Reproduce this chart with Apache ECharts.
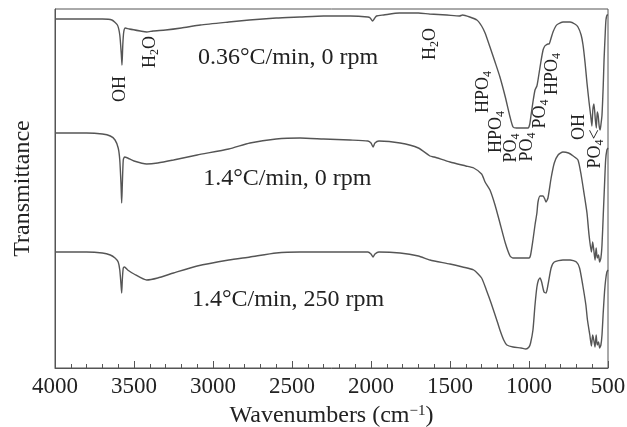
<!DOCTYPE html>
<html>
<head>
<meta charset="utf-8">
<script src="https://cdn.jsdelivr.net/npm/echarts@6/dist/echarts.min.js"></script>
<style>
    html, body { margin: 0; padding: 0; background: #fff; }
    #chart { width: 627px; height: 427px; }
</style>
</head>
<body>
<div id="chart"></div>
<script>
// FTIR spectra, transmittance in arbitrary units (curves offset vertically)
const slowStill = [
    [4000, 353], [3800, 353], [3700, 353], [3640, 352], [3605, 347], [3590, 337], [3580, 317],
    [3576, 307], [3571, 327], [3565, 340], [3555, 344], [3530, 343], [3460, 341], [3420, 340],
    [3380, 341], [3300, 342], [3200, 344], [3080, 347], [2900, 350], [2770, 352], [2600, 354],
    [2450, 355], [2300, 356], [2130, 356], [2020, 355], [2005, 354], [1990, 351], [1980, 353],
    [1965, 356], [1920, 357], [1820, 359], [1700, 359], [1630, 358], [1520, 357], [1440, 356],
    [1420, 357], [1375, 355], [1330, 352], [1300, 346], [1278, 339], [1247, 325], [1215, 310],
    [1184, 295], [1150, 275], [1120, 255], [1101, 245], [1080, 244], [1057, 244], [1030, 244],
    [1006, 244], [995, 248], [987, 257], [975, 270], [962, 282], [950, 286], [943, 292],
    [925, 310], [911, 322], [900, 326], [892, 327], [880, 328], [873, 328], [860, 334],
    [848, 340], [830, 346], [816, 348], [785, 350], [740, 350], [710, 348], [690, 345],
    [670, 337], [658, 327], [645, 309], [633, 289], [620, 270], [610, 257], [602, 246],
    [596, 262], [589, 268], [580, 252], [574, 244], [568, 260], [562, 256], [556, 246],
    [550, 242], [545, 247], [538, 257], [530, 287], [525, 312], [518, 337], [513, 352],
    [505, 357], [500, 357]
];

const fastStill = [
    [4000, 239], [3800, 239], [3700, 238], [3650, 236], [3620, 232], [3600, 224], [3590, 212],
    [3582, 187], [3578, 169], [3574, 187], [3568, 212], [3560, 215], [3540, 214], [3500, 211],
    [3420, 208], [3350, 209], [3250, 212], [3100, 217], [2900, 223], [2766, 229], [2600, 233],
    [2449, 234], [2300, 233], [2133, 232], [2020, 231], [2000, 229], [1987, 225], [1975, 229],
    [1950, 231], [1816, 229], [1700, 224], [1627, 216], [1600, 215], [1500, 210], [1400, 206],
    [1350, 204], [1300, 198], [1278, 190], [1247, 182], [1215, 167], [1184, 149], [1150, 129],
    [1120, 116], [1101, 114], [1050, 114], [1000, 114], [990, 117], [975, 132], [962, 147],
    [950, 159], [943, 170], [930, 176], [911, 176], [900, 173], [892, 170], [880, 174],
    [860, 194], [840, 209], [816, 217], [785, 220], [750, 219], [720, 216], [690, 212],
    [670, 197], [650, 177], [633, 159], [620, 137], [605, 120], [597, 130], [590, 122],
    [582, 112], [575, 124], [568, 114], [560, 117], [553, 110], [545, 114], [538, 127],
    [530, 157], [522, 187], [515, 212], [507, 222], [500, 224]
];

const fastStirred = [
    [4000, 120], [3800, 120], [3700, 119], [3650, 117], [3620, 114], [3600, 110], [3590, 102],
    [3582, 87], [3578, 79], [3574, 92], [3568, 104], [3560, 105], [3540, 102], [3500, 98],
    [3420, 92], [3350, 94], [3250, 99], [3100, 106], [2900, 112], [2766, 115], [2600, 119],
    [2449, 120], [2300, 120], [2133, 120], [2020, 120], [2000, 118], [1987, 115], [1975, 118],
    [1950, 120], [1816, 119], [1700, 116], [1627, 112], [1500, 108], [1420, 105], [1350, 102],
    [1300, 94], [1270, 82], [1240, 69], [1200, 50], [1184, 42], [1160, 32], [1140, 27],
    [1101, 25], [1050, 24], [1020, 23], [1000, 25], [990, 29], [975, 42], [962, 67],
    [950, 85], [940, 92], [930, 94], [920, 90], [905, 80], [892, 79], [880, 87],
    [860, 104], [840, 110], [785, 112], [740, 112], [700, 110], [680, 104], [660, 87],
    [640, 67], [630, 52], [615, 37], [605, 26], [597, 37], [590, 32], [582, 25],
    [575, 37], [568, 27], [560, 30], [553, 24], [545, 27], [538, 37], [530, 60],
    [522, 80], [515, 92], [507, 100], [500, 102]
];

const curveNames = ["0.36°C/min, 0 rpm", "1.4°C/min, 0 rpm", "1.4°C/min, 250 rpm"];
const curveNameAnchors = [[2525, 314], [2530, 193], [2525, 72]];

// band assignments, rich text, anchored in data space, written bottom-to-top
const bandLabels = ["OH", "H{s|2}O", "H{s|2}O", "HPO{s|4}", "HPO{s|4}", "PO{s|4}", "PO{s|4}", "PO{s|4}", "HPO{s|4}", "OH", "PO{s|4}<"];
const bandAnchors = [
    [3590, 283], [3399, 320], [1627, 328], [1291, 280], [1209, 240], [1114, 224],
    [1013, 225], [930, 258], [854, 298], [684, 245], [582, 223]
];

const serif = "Liberation Serif";
const ink = "#222";

const chart = echarts.init(document.getElementById("chart"));

chart.setOption({
    animation: false,
    grid: {
        left: 55, right: 19, top: 9, bottom: 59,
        outerBoundsMode: "none",
        show: true, borderColor: "#555", borderWidth: 1
    },
    xAxis: {
        type: "value",
        inverse: true,
        min: 500,
        max: 4000,
        interval: 500,
        name: "Wavenumbers (cm{p|−1})",
        nameLocation: "middle",
        nameGap: 36,
        nameTextStyle: {
            fontFamily: serif, fontSize: 24, color: ink,
            rich: { p: { fontFamily: serif, fontSize: 15, color: ink, verticalAlign: "top", lineHeight: 24 } }
        },
        axisLine: { lineStyle: { color: "#555", width: 1 } },
        axisTick: { inside: true, length: 7, lineStyle: { color: "#555" } },
        minorTick: { show: true, splitNumber: 5, length: 4, lineStyle: { color: "#555" } },
        axisLabel: { fontFamily: serif, fontSize: 23, color: ink, margin: 7, formatter: v => String(v) },
        splitLine: { show: false }
    },
    yAxis: {
        type: "value",
        min: 4,
        max: 363,
        name: "Transmittance",
        nameLocation: "middle",
        nameGap: 20,
        nameTextStyle: { fontFamily: serif, fontSize: 24, color: ink },
        axisLine: { show: true, lineStyle: { color: "#555", width: 1 } },
        axisTick: { show: false },
        axisLabel: { show: false },
        splitLine: { show: false }
    },
    series: [slowStill, fastStill, fastStirred].map((data, i) => ({
        name: curveNames[i],
        type: "line",
        data: data,
        showSymbol: false,
        smooth: 0.2,
        lineStyle: { color: "#555", width: 1.4 }
    }))
});

const toPx = p => chart.convertToPixel({ xAxisIndex: 0, yAxisIndex: 0 }, p);

const graphics = [];
curveNames.forEach((text, i) => {
    const [x, y] = toPx(curveNameAnchors[i]);
    graphics.push({
        type: "text", x: x, y: y, silent: true,
        style: { text: text, fontFamily: serif, fontSize: 24, fill: ink, align: "center", verticalAlign: "middle" }
    });
});
bandLabels.forEach((text, i) => {
    const [x, y] = toPx(bandAnchors[i]);
    graphics.push({
        type: "text", x: x, y: y, rotation: Math.PI / 2, silent: true,
        style: {
            text: text, fontFamily: serif, fontSize: 18, fill: ink, lineHeight: 21,
            align: "center", verticalAlign: "middle",
            rich: { s: { fontFamily: serif, fontSize: 12, fill: ink, verticalAlign: "bottom", lineHeight: 21 } }
        }
    });
});
chart.setOption({ graphic: graphics });

window.addEventListener("resize", () => chart.resize());
</script>
</body>
</html>
